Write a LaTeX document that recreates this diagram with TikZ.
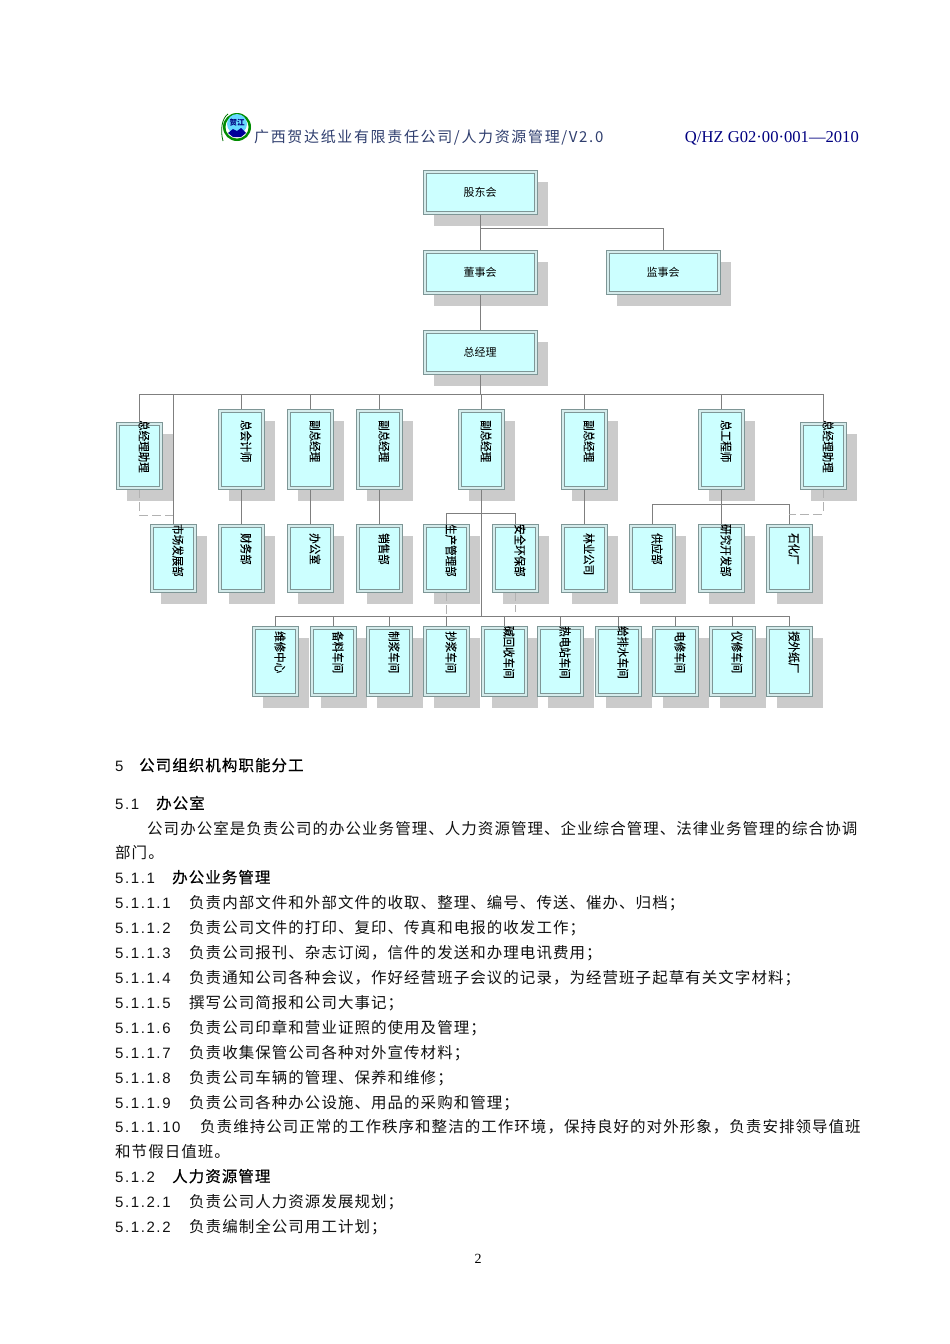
\documentclass[tikz,border=0pt]{standalone}
\usepackage{fontspec}
\setmainfont{Liberation Sans}
\newfontfamily\cjkbody[LetterSpace=6.7]{Noto Sans CJK SC}
\newfontfamily\cjkheadb[LetterSpace=6.7,FakeBold=0.35]{Noto Sans CJK SC}
\newfontfamily\cjkchart{Noto Sans CJK SC}
\newfontfamily\cjkvert[FakeStretch=0.875,FakeBold=0.15]{Noto Sans CJK SC}
\newfontfamily\cjkhdr[LetterSpace=11]{Noto Sans CJK SC}
\newfontfamily\numfont[LetterSpace=10.6]{Liberation Sans}
\newfontfamily\hdrlatin{Liberation Serif}
\definecolor{shadowc}{HTML}{CBCBCB}
\definecolor{bandc}{HTML}{D5ECEC}
\definecolor{linec}{HTML}{7F7F7F}
\definecolor{edgec}{HTML}{7E9696}
\definecolor{cyanc}{HTML}{CCFFFF}
\definecolor{navyc}{HTML}{000080}
\definecolor{hdrc}{HTML}{2F3E6E}
\definecolor{txtc}{HTML}{111111}
\pgfdeclarelayer{shadowlayer}
\pgfdeclarelayer{connlayer}
\pgfsetlayers{shadowlayer,connlayer,main}
\tikzset{
  outerbox/.style={draw=edgec,line width=1pt,fill=bandc,inner sep=0pt,outer sep=0pt},
  innerbox/.style={draw=edgec,line width=.9pt,fill=cyanc,inner sep=0pt,outer sep=0pt},
  conn/.style={draw=linec,line width=.9pt},
  dconn/.style={draw=linec!60,line width=1pt,dash pattern=on 9pt off 4pt},
  vlabel/.style={rotate=-90,anchor=west,inner sep=0pt,font=\cjkvert\fontsize{12pt}{12pt}\selectfont,text=black},
  hlabel/.style={inner sep=0pt,font=\cjkchart\fontsize{11pt}{11pt}\selectfont,text=black},
  numtxt/.style={anchor=base west,inner sep=0pt,font=\numfont\fontsize{15pt}{15pt}\selectfont,text=txtc},
  bodytxt/.style={anchor=base west,inner sep=0pt,font=\cjkbody\fontsize{15.5pt}{15.5pt}\selectfont,text=txtc},
  headtxt/.style={anchor=base west,inner sep=0pt,font=\cjkheadb\fontsize{15.5pt}{15.5pt}\selectfont,text=black},
}
% name, left, top, right, bottom
\newcommand\obox[5]{%
  \begin{pgfonlayer}{shadowlayer}
    \fill[shadowc] ({#2+11},{#3+12}) rectangle ({#4+11},{#5+12});
  \end{pgfonlayer}
  \node[outerbox,minimum width={#4-#2},minimum height={#5-#3}] (#1) at ({(#2+#4)/2},{(#3+#5)/2}) {};
  \node[innerbox,minimum width={#4-#2-6},minimum height={#5-#3-6}] (#1-in) at (#1.center) {};
}
% name, left, top, right, bottom, text ystart, text
\newcommand\vb[7]{%
  \obox{#1}{#2}{#3}{#4}{#5}
  \node[vlabel] (#1-t) at ({(#2+#4)/2+5},#6) {#7};
}
\newcommand\hb[6]{%
  \obox{#1}{#2}{#3}{#4}{#5}
  \node[hlabel] (#1-t) at (#1.center) {#6};
}
% name, y, number, x, text
\newcommand\bl[5]{%
  \node[numtxt] (#1-n) at (115,#2) {#3};
  \node[bodytxt] (#1-b) at (#4,#2) {#5};
}
\newcommand\hl[5]{%
  \node[numtxt] (#1-n) at (115,#2) {#3};
  \node[headtxt] (#1-b) at (#4,#2) {#5};
}
\begin{document}
\begin{tikzpicture}[x=1pt,y=-1pt]
\useasboundingbox (0,0) rectangle (950,1344);

% logo
\draw[green!45!black,line width=.8pt] (223,141) .. controls (220,130) and (222,118) .. (228,114);
\fill[green!55!black] (237,127) circle (14);
\fill[white] (237,127) circle (11.5);
\fill[blue!25!cyan!60!white] (237,124) circle (10);
\fill[blue!60!black] (228,133) -- (233,129) -- (237,131) -- (241,128) -- (246,133) -- (241,137) -- (233,137) -- cycle;
\node[inner sep=0pt,font=\cjkchart\fontsize{7.5pt}{7.5pt}\selectfont\bfseries,text=blue!50!black] (logo) at (237,123) {贺江};

% header
\node[anchor=base west,inner sep=0pt,font=\cjkhdr\fontsize{15pt}{15pt}\selectfont,text=hdrc] (hdr) at (254,142)
  {广西贺达纸业有限责任公司/人力资源管理/V2.0};
\node[anchor=base east,inner sep=0pt,font=\hdrlatin\fontsize{16.6pt}{16.6pt}\selectfont,text=navyc] (hdrr) at (859,142)
  {Q/HZ G02·00·001—2010};

% top boxes
\hb{sh}{423}{170}{537}{214}{股东会}
\hb{bd}{423}{250}{537}{294}{董事会}
\hb{sup}{606}{250}{720}{294}{监事会}
\hb{gm}{423}{330}{537}{374}{总经理}

% row 1
\vb{a1}{116}{422}{162}{489}{420}{总经理助理}
\vb{a2}{218}{409}{264}{489}{420}{总会计师}
\vb{a3}{287}{409}{333}{489}{420}{副总经理}
\vb{a4}{356}{409}{402}{489}{420}{副总经理}
\vb{a5}{458}{409}{504}{489}{420}{副总经理}
\vb{a6}{561}{409}{607}{489}{420}{副总经理}
\vb{a7}{698}{409}{744}{489}{420}{总工程师}
\vb{a8}{800}{422}{846}{489}{420}{总经理助理}

% row 2
\vb{b1}{150}{524}{196}{592}{524}{市场发展部}
\vb{b2}{218}{524}{264}{592}{533}{财务部}
\vb{b3}{287}{524}{333}{592}{533}{办公室}
\vb{b4}{356}{524}{402}{592}{533}{销售部}
\vb{b5}{423}{524}{469}{592}{524}{生产管理部}
\vb{b6}{492}{524}{538}{592}{524}{安全环保部}
\vb{b7}{561}{524}{607}{592}{533}{林业公司}
\vb{b8}{629}{524}{675}{592}{533}{供应部}
\vb{b9}{698}{524}{744}{592}{524}{研究开发部}
\vb{b10}{766}{524}{812}{592}{533}{石化厂}

% row 3
\vb{c1}{252}{626}{298}{696}{631}{维修中心}
\vb{c2}{310}{626}{356}{696}{631}{备料车间}
\vb{c3}{366}{626}{412}{696}{631}{制浆车间}
\vb{c4}{423}{626}{469}{696}{631}{抄浆车间}
\vb{c5}{481}{626}{527}{696}{626}{碱回收车间}
\vb{c6}{537}{626}{583}{696}{626}{热电站车间}
\vb{c7}{595}{626}{641}{696}{626}{给排水车间}
\vb{c8}{652}{626}{698}{696}{631}{电修车间}
\vb{c9}{709}{626}{755}{696}{631}{仪修车间}
\vb{c10}{766}{626}{812}{696}{631}{授外纸厂}

% connectors
\coordinate (ysup) at (0,228);
\coordinate (ybus) at (0,394);
\coordinate (ydl) at (0,515);
\coordinate (ydr) at (0,514);
\coordinate (yprod) at (0,513);
\coordinate (yeng) at (0,504);
\coordinate (ybot) at (0,616);
\coordinate (yenv) at (0,612);
\begin{pgfonlayer}{connlayer}
\draw[conn] (sh.south) -- (bd.north);
\draw[conn] (bd.north |- ysup) -- (sup.north |- ysup) -- (sup.north);
\draw[conn] (bd.south) -- (gm.north);
\draw[conn] (gm.south) -- (gm.south |- ybus);
\draw[conn] (a1.north |- ybus) -- (a8.north |- ybus);
\foreach \n in {a2,a3,a4,a5,a6,a7}{\draw[conn] (\n.north |- ybus) -- (\n.north);}
\foreach \n/\m in {a2/b2,a3/b3,a4/b4,a6/b7,a7/b9}{\draw[conn] (\n.south) -- (\m.north);}
\draw[conn] (a5.south) -- (a5.south |- ybot);
\draw[conn] (b5.north) -- (b5.north |- yprod) -- (b6.north |- yprod) -- (b6.north);
\draw[conn] (b8.north) -- (b8.north |- yeng) -- (b10.north |- yeng) -- (b10.north);
\draw[conn] (c1.north |- ybot) -- (c10.north |- ybot);
\foreach \n in {c1,c2,c3,c4,c5,c6,c7,c8,c9,c10}{\draw[conn] (\n.north |- ybot) -- (\n.north);}
\draw[dconn] (b5.south) -- (b5.south |- ybot);
\draw[dconn] (b6.south) -- (b6.south |- yenv);
\draw[dconn] (a1.south) -- (a1.south |- ydl) -- (b1.north |- ydl);
\draw[dconn] (a8.south) -- (a8.south |- ydr) -- (b10.north |- ydr);
\end{pgfonlayer}
% lines that run over boxes
\draw[conn] (a1.north |- ybus) -- (a1.north);
\draw[conn] (b1.north |- ybus) -- (b1.north);
\draw[conn] (a8.north |- ybus) -- (a8.north);

% body text
\begin{scope}[yshift=-1pt]
\hl{s5}{770}{5}{139}{公司组织机构职能分工}
\hl{s51}{808}{5.1}{156}{办公室}
\node[bodytxt] (p1) at (147,833) {公司办公室是负责公司的办公业务管理、人力资源管理、企业综合管理、法律业务管理的综合协调};
\node[bodytxt] (p2) at (115,857) {部门。};
\hl{l1}{882}{5.1.1}{172}{办公业务管理}
\bl{l2}{907}{5.1.1.1}{189}{负责内部文件和外部文件的收取、整理、编号、传送、催办、归档；}
\bl{l3}{932}{5.1.1.2}{189}{负责公司文件的打印、复印、传真和电报的收发工作；}
\bl{l4}{957}{5.1.1.3}{189}{负责公司报刊、杂志订阅，信件的发送和办理电讯费用；}
\bl{l5}{982}{5.1.1.4}{189}{负责通知公司各种会议，作好经营班子会议的记录，为经营班子起草有关文字材料；}
\bl{l6}{1007}{5.1.1.5}{189}{撰写公司简报和公司大事记；}
\bl{l7}{1032}{5.1.1.6}{189}{负责公司印章和营业证照的使用及管理；}
\bl{l8}{1057}{5.1.1.7}{189}{负责收集保管公司各种对外宣传材料；}
\bl{l9}{1082}{5.1.1.8}{189}{负责公司车辆的管理、保养和维修；}
\bl{l10}{1107}{5.1.1.9}{189}{负责公司各种办公设施、用品的采购和管理；}
\bl{l11}{1131}{5.1.1.10}{200}{负责维持公司正常的工作秩序和整洁的工作环境，保持良好的对外形象，负责安排领导值班}
\node[bodytxt] (l12) at (115,1156) {和节假日值班。};
\hl{l13}{1181}{5.1.2}{172}{人力资源管理}
\bl{l14}{1206}{5.1.2.1}{189}{负责公司人力资源发展规划；}
\bl{l15}{1231}{5.1.2.2}{189}{负责编制全公司用工计划；}
\end{scope}
\node[anchor=base,inner sep=0pt,font=\hdrlatin\fontsize{14pt}{14pt}\selectfont] (pg) at (478,1263) {2};
\end{tikzpicture}
\end{document}
